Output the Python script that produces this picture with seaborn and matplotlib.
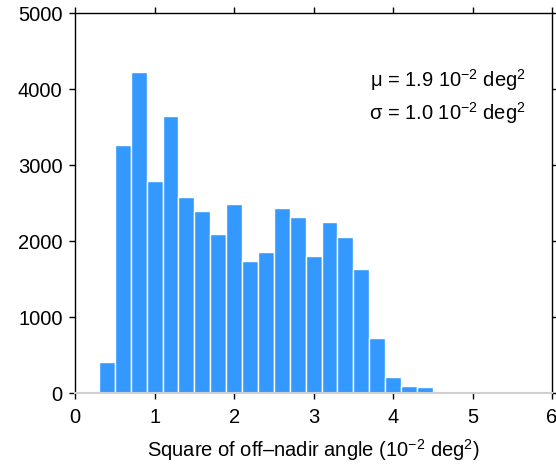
import numpy as np
import matplotlib
matplotlib.use("Agg")
import matplotlib.pyplot as plt
import seaborn as sns

# bin edges (10^-2 deg^2) and counts
bin_edges = [0.3, 0.5, 0.7, 0.9, 1.1, 1.3, 1.5, 1.7, 1.9, 2.1, 2.3,
             2.5, 2.7, 2.9, 3.1, 3.3, 3.5, 3.7, 3.9, 4.1, 4.3, 4.5]
counts = [410, 3270, 4230, 2795, 3650, 2580, 2390, 2100, 2490, 1735, 1860,
          2430, 2320, 1805, 2250, 2060, 1630, 730, 215, 90, 80]
x_ticks = [0, 1, 2, 3, 4, 5, 6]
y_ticks = [0, 1000, 2000, 3000, 4000, 5000]

sns.set_style("ticks")
plt.rcParams['font.family'] = ['Liberation Sans', 'DejaVu Sans']
plt.rcParams['mathtext.fontset'] = 'custom'
plt.rcParams['mathtext.rm'] = 'Liberation Sans'
plt.rcParams['mathtext.it'] = 'Liberation Sans'
plt.rcParams['mathtext.default'] = 'regular'
plt.rcParams['text.color'] = 'black'
plt.rcParams['axes.labelcolor'] = 'black'
plt.rcParams['xtick.color'] = 'black'
plt.rcParams['ytick.color'] = 'black'

centers = [(a + b) / 2 for a, b in zip(bin_edges[:-1], bin_edges[1:])]

fig = plt.figure(figsize=(5.56, 4.68), dpi=100)
ax = fig.add_axes([0.135, 0.160, 0.858, 0.812])

sns.histplot(x=centers, weights=counts, bins=bin_edges, ax=ax,
             color='#3399ff', alpha=1, edgecolor='white', linewidth=1)

ax.set_xlim(0, 6)
ax.set_ylim(0, 5000)
ax.set_xticks(x_ticks)
ax.set_yticks(y_ticks)
ax.set_ylabel('')
ax.set_xlabel('Square of off\u2013nadir angle (10$^{-2}$ deg$^{2}$)', fontsize=14.5, labelpad=7)

ax.tick_params(direction='out', length=4, width=1, labelsize=14.5,
               top=True, right=True, labeltop=False, labelright=False)
ax.tick_params(axis='x', pad=7)
ax.tick_params(axis='y', pad=5)
for side in ['left', 'top', 'right']:
    ax.spines[side].set_visible(True)
    ax.spines[side].set_color('black')
    ax.spines[side].set_linewidth(1)
ax.spines['bottom'].set_color('#d0d0d0')
ax.spines['bottom'].set_linewidth(1.5)

ax.text(0.945, 0.824, '\u03bc = 1.9 10$^{-2}$ deg$^{2}$', transform=ax.transAxes,
        ha='right', va='center', fontsize=14.5)
ax.text(0.945, 0.737, '\u03c3 = 1.0 10$^{-2}$ deg$^{2}$', transform=ax.transAxes,
        ha='right', va='center', fontsize=14.5)

fig.savefig('out.png', dpi=100)
